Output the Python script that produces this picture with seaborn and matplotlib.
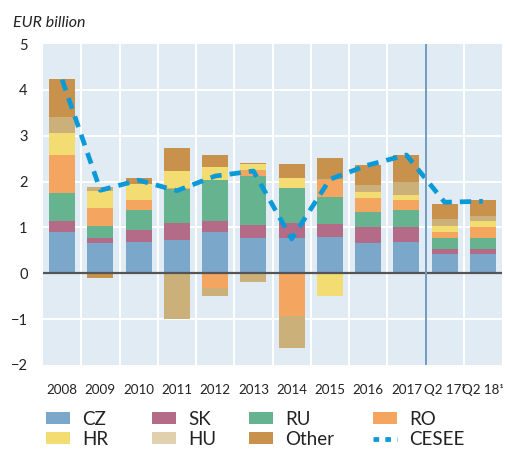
import numpy as np
import pandas as pd
import matplotlib
matplotlib.use('Agg')
import matplotlib.pyplot as plt
import seaborn as sns
from matplotlib.patches import Patch
from matplotlib.lines import Line2D

# data (EUR billion)
periods = ['2008', '2009', '2010', '2011', '2012', '2013', '2014', '2015',
           '2016', '2017', 'Q2 17¹', 'Q2 18¹']
cz = [0.89, 0.65, 0.69, 0.72, 0.89, 0.78, 0.78, 0.80, 0.67, 0.69, 0.41, 0.41]
sk = [0.26, 0.13, 0.26, 0.37, 0.26, 0.28, 0.31, 0.28, 0.35, 0.31, 0.13, 0.13]
ru = [0.61, 0.26, 0.44, 0.74, 0.88, 1.07, 0.77, 0.59, 0.31, 0.39, 0.24, 0.24]
ro = [0.83, 0.39, 0.20, 0.02, -0.32, 0.13, -0.93, 0.37, 0.31, 0.20, 0.13, 0.24]
hr = [0.46, 0.36, 0.35, 0.39, 0.28, 0.13, 0.22, -0.50, 0.13, 0.11, 0.13, 0.13]
hu = [0.35, 0.10, 0.00, -0.99, -0.18, -0.20, -0.71, 0.02, 0.15, 0.28, 0.15, 0.11]
other = [0.83, -0.11, 0.13, 0.50, 0.28, 0.02, 0.31, 0.46, 0.44, 0.61, 0.33, 0.33]
cesee = [4.22, 1.81, 2.03, 1.80, 2.12, 2.23, 0.75, 2.05, 2.36, 2.58, 1.55, 1.57]

series = [('CZ', cz, '#7ba7cb'), ('SK', sk, '#b36b87'), ('RU', ru, '#66b48f'),
          ('RO', ro, '#f4a55f'), ('HR', hr, '#f3dc72'), ('HU', hu, '#ccb07a'),
          ('Other', other, '#c8914c')]

plt.rcParams['font.family'] = ['Lato', 'DejaVu Sans']

fig = plt.figure(figsize=(5.05, 4.5), dpi=100)
ax = fig.add_axes([43 / 505, 85 / 450, 459 / 505, 321 / 450])
ax.set_facecolor('#e1ebf4')

pos_base = np.zeros(len(periods))
neg_base = np.zeros(len(periods))
for name, vals, col in series:
    v = np.array(vals, dtype=float)
    bottoms = np.where(v >= 0, pos_base, neg_base)
    sns.barplot(x=periods, y=v, bottom=bottoms, color=col, width=0.68,
                saturation=1, linewidth=0, ax=ax, zorder=3)
    pos_base = pos_base + np.where(v > 0, v, 0)
    neg_base = neg_base + np.where(v < 0, v, 0)

sns.lineplot(x=np.arange(len(periods)), y=cesee, color='#0a9ad8', lw=3.4,
             linestyle=(0, (2.4, 1.7)), ax=ax, zorder=5)

ax.set_xlim(-0.5, len(periods) - 0.5)
ax.set_ylim(-2, 5)
ax.set_yticks(range(-2, 6))
ax.set_yticklabels([str(t).replace('-', '\u2212') for t in range(-2, 6)])
for y in range(-1, 5):
    ax.axhline(y, color='white', lw=1.4, zorder=1)
for xb in np.arange(0.5, len(periods) - 1, 1):
    if xb == 9.5:
        ax.axvline(xb, color='#6f9cc3', lw=1.4, zorder=6)
    else:
        ax.axvline(xb, color='white', lw=1.4, zorder=1)
ax.axhline(0, color='#555555', lw=1.6, zorder=4)

for s in ax.spines.values():
    s.set_visible(False)
ax.tick_params(axis='both', length=0, colors='#222222')
ax.tick_params(axis='y', pad=11, labelsize=10.5)
ax.tick_params(axis='x', pad=14, labelsize=9.6)
ax.set_xlabel('')
ax.set_ylabel('')
ax.grid(False)

fig.text(13 / 505, 1 - 23 / 450, 'EUR billion', style='italic', fontsize=11.5,
         color='#222222', va='center', ha='left')

legend_cols = {'CZ': '#7ba7cb', 'SK': '#b36b87', 'RU': '#66b48f', 'RO': '#f4a55f',
               'HR': '#f3dc72', 'HU': '#e0d0ae', 'Other': '#c8914c'}
h = {k: Patch(facecolor=c, edgecolor='none') for k, c in legend_cols.items()}
h['CESEE'] = Line2D([0], [0], color='#0a9ad8', lw=3.4, linestyle=(0, (1.2, 1.3)))
columns = [(['CZ', 'HR'], 46), (['SK', 'HU'], 152), (['RU', 'Other'], 249),
           (['RO', 'CESEE'], 373)]
for names, x0 in columns:
    leg = fig.legend([h[k] for k in names], names, loc='upper left',
                     bbox_to_anchor=(x0 / 505, 1 - 411 / 450), frameon=False,
                     fontsize=13.5, handlelength=1.3, handleheight=0.6,
                     handletextpad=0.65, labelspacing=0.15, borderpad=0,
                     borderaxespad=0, labelcolor='#222222')

fig.savefig('out.png', dpi=100)
